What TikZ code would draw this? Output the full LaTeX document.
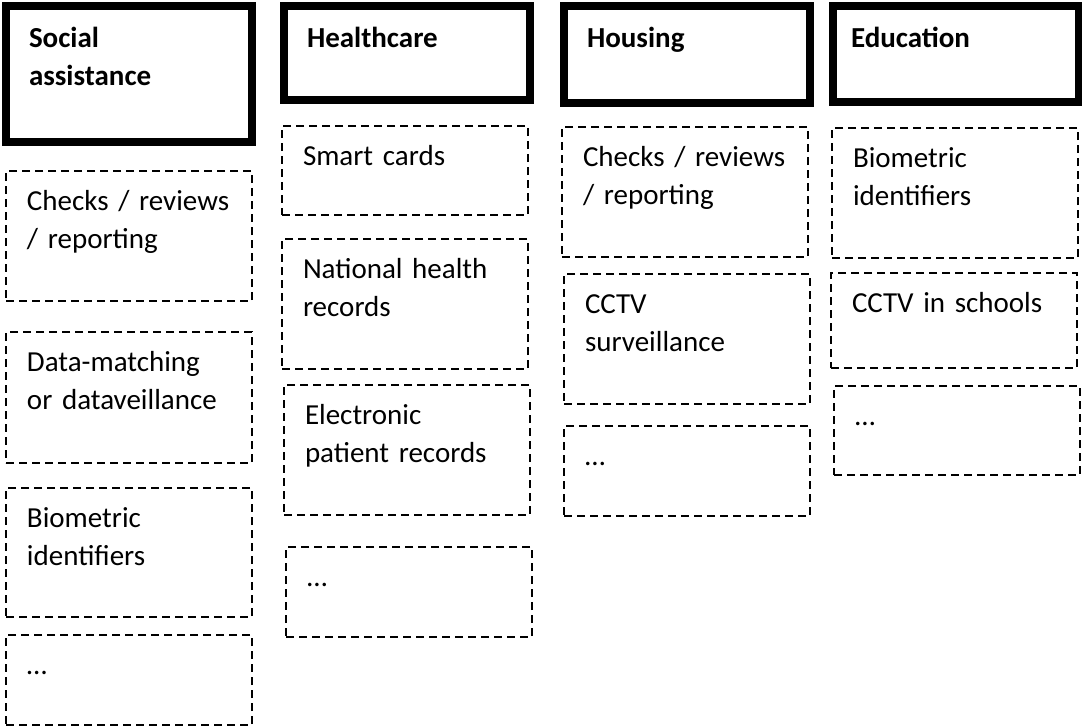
\documentclass[tikz,border=0pt]{standalone}
\usepackage{fontspec}
\setmainfont{Carlito}
\tikzset{
  sector/.style={draw, line width=8pt, outer sep=0pt, anchor=north west, inner xsep=23pt, inner ysep=0pt, text width=200pt, text height=41pt, align=left, font=\fontsize{29}{38}\selectfont\bfseries},
  tool/.style={draw, line width=1.5pt, dash pattern=on 8pt off 5pt, outer sep=0pt, anchor=north west, inner xsep=21pt, inner ysep=0pt, text width=204pt, text height=39pt, align=left, font=\fontsize{29}{38}\selectfont},
}
\begin{document}
\begin{tikzpicture}[x=1pt,y=-1pt]
\useasboundingbox (0,0) rectangle (1082,728);
\node[sector,text depth=95pt] (sa) at (6,6) {Social\\assistance};
\node[sector,text depth=53pt] (hc) at (284,6) {Healthcare};
\node[sector,text depth=56pt] (ho) at (564,6) {Housing};
\node[sector,text depth=55pt,inner xsep=18pt,text width=210pt] (ed) at (833,6) {Education};
\node[tool,text depth=91pt] (sa1) at (6,171) {Checks / reviews\\/ reporting};
\node[tool,text depth=92pt] (sa2) at (6,332) {Data-matching\\or dataveillance};
\node[tool,text depth=90pt] (sa3) at (6,488) {Biometric\\identifiers};
\node[tool,text depth=51pt] (sa4) at (6,635) {…};
\node[tool,text depth=50pt] (hc1) at (282,126) {Smart cards};
\node[tool,text depth=91pt] (hc2) at (282,239) {National health\\records};
\node[tool,text depth=91pt] (hc3) at (284,385) {Electronic\\patient records};
\node[tool,text depth=51pt] (hc4) at (286,547) {…};
\node[tool,text depth=91pt] (ho1) at (562,127) {Checks / reviews\\/ reporting};
\node[tool,text depth=91pt] (ho2) at (564,274) {CCTV\\surveillance};
\node[tool,text depth=51pt] (ho3) at (564,426) {…};
\node[tool,text depth=91pt] (ed1) at (832,128) {Biometric\\identifiers};
\node[tool,text depth=56pt] (ed2) at (831,273) {CCTV in schools};
\node[tool,text depth=50pt] (ed3) at (834,386) {…};
\end{tikzpicture}
\end{document}
